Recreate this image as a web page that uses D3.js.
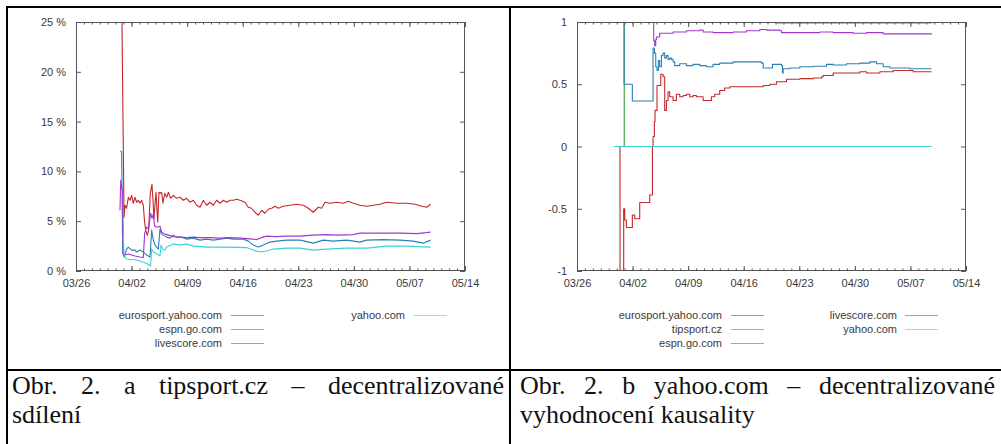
<!DOCTYPE html>
<html>
<head>
<meta charset="utf-8">
<script src="https://cdn.jsdelivr.net/npm/d3@7"></script>
<style>
  html, body { margin: 0; padding: 0; background: #fff; }
  svg { display: block; }
</style>
</head>
<body>
<svg id="fig" width="1001" height="444"></svg>
<script>
// ---- data ---------------------------------------------------------------
// Time values are days since 26 March (the left end of the time axis).
const axisStart = "2010-03-26";
const xTickLabels = ["03/26", "04/02", "04/09", "04/16", "04/23", "04/30", "05/07", "05/14"];

// Panel a: share of tipsport.cz traffic (percent)
const shareTicks = [0, 5, 10, 15, 20, 25];
const shareEurosport = [[5.79,25.0],[6.05,5.4],[6.17,6.6],[6.38,6.3],[6.59,7.4],[6.80,7.1],[7.01,7.6],[7.22,6.8],[7.43,7.4],[7.64,6.9],[7.85,7.1],[8.06,6.8],[8.27,7.1],[8.48,6.6],[8.61,5.2],[8.77,4.1],[8.98,3.6],[9.15,4.1],[9.36,7.8],[9.57,8.7],[9.70,7.1],[9.82,5.2],[9.99,7.1],[10.08,7.9],[10.29,4.9],[10.45,7.9],[10.62,7.8],[10.79,7.9],[10.96,6.8],[11.17,7.8],[11.42,7.4],[11.63,7.9],[11.92,7.3],[12.26,7.6],[12.68,7.3],[13.10,7.4],[13.52,7.1],[13.94,7.3],[14.36,6.9],[14.78,7.1],[15.20,6.6],[15.62,6.4],[16.04,7.1],[16.46,6.6],[16.88,6.9],[17.30,6.6],[17.72,7.1],[18.14,6.8],[18.56,7.1],[18.98,6.9],[19.40,7.1],[19.82,7.1],[20.24,7.2],[20.66,7.1],[21.28,6.9],[21.70,6.4],[22.12,6.3],[22.54,5.9],[22.96,5.6],[23.38,6.1],[23.80,5.8],[24.22,6.2],[24.64,6.3],[25.06,6.5],[25.48,6.3],[26.11,6.5],[26.95,6.6],[27.79,6.7],[28.63,6.6],[29.26,6.3],[29.89,5.9],[30.52,6.4],[30.94,6.3],[31.36,6.9],[31.99,6.8],[32.83,6.9],[33.67,6.8],[34.30,7.0],[34.93,6.8],[35.77,6.6],[36.61,6.5],[37.45,6.6],[38.29,6.7],[39.13,6.9],[40.39,6.8],[41.65,6.8],[42.70,6.7],[43.54,6.5],[44.16,6.4],[44.67,6.7]];
const shareEspn = [[5.63,12.1],[5.75,11.9],[5.88,1.8],[6.05,1.4],[6.38,2.2],[6.59,2.4],[7.01,2.1],[7.43,2.1],[7.64,1.9],[8.06,2.1],[8.48,1.9],[8.90,1.6],[9.32,1.4],[9.53,4.1],[9.74,3.1],[9.95,2.6],[10.16,2.4],[10.37,2.2],[10.58,4.2],[10.79,3.7],[11.00,3.6],[11.42,3.4],[11.84,3.3],[12.26,3.6],[12.68,3.4],[13.31,3.4],[13.94,3.2],[14.78,3.3],[15.62,3.1],[16.46,3.2],[17.30,3.1],[18.14,3.2],[18.98,3.3],[19.82,3.2],[21.07,3.2],[21.70,3.0],[22.33,2.6],[22.96,2.4],[23.59,2.6],[24.43,2.9],[25.27,3.0],[26.53,3.1],[28.21,3.1],[29.89,2.8],[31.15,3.1],[32.41,3.0],[34.09,3.1],[35.77,2.9],[36.61,3.1],[38.71,3.15],[40.81,3.1],[42.49,3.0],[43.75,2.8],[44.67,3.1]];
const shareLivescore = [[5.54,6.1],[5.63,9.1],[5.75,8.3],[5.88,8.1],[5.96,1.7],[6.17,1.6],[6.59,1.7],[7.01,1.6],[7.43,1.5],[8.06,1.4],[8.48,1.35],[8.65,3.8],[8.90,4.4],[9.15,4.2],[9.40,5.8],[9.57,5.3],[9.74,5.7],[9.90,4.5],[10.29,4.4],[10.58,4.5],[10.79,3.9],[11.21,3.7],[11.63,3.6],[12.26,3.45],[13.10,3.4],[13.94,3.35],[14.78,3.4],[15.62,3.35],[16.88,3.35],[18.14,3.3],[19.40,3.35],[20.66,3.3],[21.49,3.25],[22.33,3.2],[22.75,3.15],[23.17,3.3],[24.01,3.5],[25.27,3.45],[26.53,3.5],[28.21,3.5],[29.89,3.6],[31.57,3.65],[32.83,3.6],[34.93,3.65],[35.77,3.8],[38.29,3.8],[40.81,3.8],[42.91,3.75],[44.16,3.85],[44.67,3.9]];
const shareYahoo = [[5.96,3.6],[6.05,1.6],[6.38,1.2],[6.80,1.15],[7.22,1.15],[7.64,1.1],[8.06,1.0],[8.48,0.9],[8.90,0.75],[9.40,0.5],[9.53,2.2],[9.74,1.9],[10.16,1.75],[10.58,1.5],[10.71,2.6],[10.92,2.2],[11.21,2.1],[11.42,2.4],[12.26,2.7],[13.10,2.6],[13.94,2.7],[14.78,2.5],[16.46,2.4],[18.98,2.4],[21.49,2.35],[22.33,2.1],[23.17,1.9],[24.01,2.0],[24.85,2.2],[26.53,2.3],[28.21,2.3],[29.89,2.1],[31.57,2.2],[34.09,2.3],[36.61,2.3],[39.13,2.5],[41.65,2.5],[44.67,2.4]];

// Panel b: causality score for yahoo.com (-1 .. 1)
const causalTicks = [-1, -0.5, 0, 0.5, 1];
const causalTickLabels = ["-1", "-0.5", "0", "0.5", "1"];
const causalEurosport = [[5.38,0],[5.42,-1.3],[5.88,-0.5],[6.01,-0.59],[6.22,-0.65],[6.97,-0.55],[7.27,-0.58],[7.90,-0.45],[9.16,-0.39],[9.50,0.0],[9.58,0.08],[9.75,0.2],[9.83,0.29],[10.08,0.49],[10.55,0.58],[10.84,0.56],[11.05,0.29],[11.26,0.37],[11.47,0.44],[11.68,0.40],[12.10,0.37],[12.52,0.42],[12.94,0.40],[13.36,0.41],[13.78,0.42],[14.20,0.40],[14.62,0.41],[15.04,0.40],[15.46,0.40],[15.88,0.37],[16.51,0.37],[16.93,0.40],[17.35,0.42],[17.98,0.45],[18.61,0.47],[19.24,0.48],[20.50,0.48],[22.18,0.48],[23.45,0.49],[24.29,0.50],[25.13,0.52],[26.39,0.54],[28.07,0.545],[29.75,0.55],[30.80,0.56],[31.01,0.57],[32.27,0.59],[33.95,0.59],[35.63,0.60],[36.47,0.59],[38.15,0.60],[39.83,0.61],[42.35,0.60],[44.66,0.60]];
const causalTipsport = [[5.92,0],[5.95,1.0],[25.13,1.0],[25.15,0.992],[44.66,0.992]];
const causalEspn = [[5.90,1.0],[5.93,0.5],[6.97,0.365],[9.50,0.365],[9.58,0.79],[9.75,0.75],[9.92,0.64],[10.08,0.61],[10.25,0.69],[10.42,0.64],[10.63,0.73],[10.84,0.75],[11.05,0.71],[11.26,0.73],[11.47,0.70],[11.68,0.71],[11.89,0.70],[12.10,0.68],[12.31,0.65],[12.94,0.665],[13.78,0.65],[14.62,0.66],[15.46,0.65],[16.30,0.64],[17.14,0.66],[17.98,0.67],[19.66,0.68],[21.34,0.68],[23.24,0.67],[23.45,0.63],[24.62,0.66],[25.76,0.65],[25.88,0.59],[25.97,0.625],[26.81,0.63],[28.07,0.64],[29.75,0.645],[31.43,0.66],[32.27,0.655],[33.95,0.665],[35.63,0.67],[36.89,0.68],[37.73,0.665],[38.57,0.64],[39.41,0.63],[41.93,0.625],[44.66,0.625]];
const causalLivescore = [[9.50,1.0],[9.66,0.85],[9.79,0.81],[9.92,0.86],[10.00,0.88],[10.42,0.91],[11.26,0.91],[12.10,0.92],[13.78,0.93],[15.46,0.935],[15.88,0.92],[17.14,0.915],[19.66,0.92],[21.34,0.93],[23.03,0.94],[23.87,0.935],[25.55,0.93],[25.76,0.915],[28.07,0.915],[30.59,0.92],[32.27,0.915],[34.79,0.91],[36.47,0.915],[38.57,0.905],[40.67,0.905],[44.66,0.90]];
const causalYahoo = [[4.66,0],[44.66,0]];

const siteColors = {
  "eurosport.yahoo.com": "#c3282b",
  "tipsport.cz": "#3a9d3a",
  "espn.go.com": "#2a80b6",
  "livescore.com": "#a236d2",
  "yahoo.com": "#3ad2d8"
};

const captionA = [["Obr.", "2.", "a", "tipsport.cz", "–", "decentralizované"], ["sdílení"]];
const captionB = [["Obr.", "2.", "b", "yahoo.com", "–", "decentralizované"], ["vyhodnocení", "kausality"]];

// ---- drawing ------------------------------------------------------------
const svg = d3.select("#fig");
const origin = d3.timeParse("%Y-%m-%d")(axisStart);
const toDate = d => new Date(origin.getTime() + d * 864e5);
const parseTick = s => d3.timeParse("%Y/%m/%d")(origin.getFullYear() + "/" + s);
const tickDates = xTickLabels.map(parseTick);
const axisFont = "'Liberation Sans', Arial, sans-serif";

function drawPanel(opts) {
  const { id, left, right, top, bottom, yDomain, yTicks, yLabels, series, curve, legend } = opts;
  const g = svg.append("g");
  const x = d3.scaleTime().domain([tickDates[0], tickDates[tickDates.length - 1]]).range([left, right]);
  const y = d3.scaleLinear().domain(yDomain).range([bottom, top]);

  g.append("clipPath").attr("id", "clip-" + id)
    .append("rect").attr("x", left).attr("y", top).attr("width", right - left).attr("height", bottom - top);

  // minor (daily) ticks
  const minor = d3.timeDay.range(tickDates[0], tickDates[tickDates.length - 1]);
  const styleAxis = sel => {
    sel.select(".domain").remove();
    sel.selectAll(".tick line").attr("stroke", "#555").attr("stroke-width", 1);
    sel.selectAll(".tick text").attr("fill", "#3a3a3a").style("font-family", axisFont).style("font-size", "11px");
  };
  g.append("g").attr("transform", `translate(0,${bottom})`)
    .call(d3.axisBottom(x).tickValues(minor).tickSize(-2.5).tickFormat("")).call(styleAxis);
  g.append("g").attr("transform", `translate(0,${top})`)
    .call(d3.axisTop(x).tickValues(minor).tickSize(-2.5).tickFormat("")).call(styleAxis);
  g.append("g").attr("transform", `translate(0,${bottom})`)
    .call(d3.axisBottom(x).tickValues(tickDates).tickSize(-5).tickPadding(8)
      .tickFormat((d, i) => xTickLabels[i])).call(styleAxis);
  g.append("g").attr("transform", `translate(0,${top})`)
    .call(d3.axisTop(x).tickValues(tickDates).tickSize(-5).tickFormat("")).call(styleAxis);
  g.append("g").attr("transform", `translate(${left},0)`)
    .call(d3.axisLeft(y).tickValues(yTicks).tickSize(-5).tickPadding(10)
      .tickFormat((d, i) => yLabels[i])).call(styleAxis);
  g.append("g").attr("transform", `translate(${right},0)`)
    .call(d3.axisRight(y).tickValues(yTicks).tickSize(-5).tickFormat("")).call(styleAxis);

  const line = d3.line().x(p => x(toDate(p[0]))).y(p => y(p[1])).curve(curve);
  const plot = g.append("g").attr("clip-path", `url(#clip-${id})`);
  series.forEach(s => {
    plot.append("path").datum(s.values)
      .attr("d", line).attr("fill", "none")
      .attr("stroke", siteColors[s.name]).attr("stroke-width", 1.1)
      .attr("stroke-linejoin", "round");
  });

  g.append("rect").attr("x", left + 0.5).attr("y", top + 0.5)
    .attr("width", right - left - 1).attr("height", bottom - top - 1)
    .attr("fill", "none").attr("stroke", "#555").attr("stroke-width", 1);

  // key
  const lg = g.append("g");
  legend.forEach(col => {
    col.names.forEach((name, i) => {
      const yy = legend.rowY + i * legend.rowStep;
      lg.append("text").attr("x", col.textEnd).attr("y", yy).attr("dy", "0.35em")
        .attr("text-anchor", "end").attr("fill", "#3a3a3a")
        .style("font-family", axisFont).style("font-size", "11px").text(name);
      lg.append("line").attr("x1", col.lineStart).attr("x2", col.lineStart + 33)
        .attr("y1", yy + 0.5).attr("y2", yy + 0.5)
        .attr("stroke", siteColors[name]).attr("stroke-width", 1).attr("opacity", 0.6);
    });
  });
}

const panelTop = 22, panelBottom = 271;

drawPanel({
  id: "a", left: 76, right: 465, top: panelTop, bottom: panelBottom,
  yDomain: [0, 25], yTicks: shareTicks, yLabels: shareTicks.map(v => v + " %"),
  curve: d3.curveLinear,
  series: [
    { name: "eurosport.yahoo.com", values: shareEurosport },
    { name: "espn.go.com", values: shareEspn },
    { name: "livescore.com", values: shareLivescore },
    { name: "yahoo.com", values: shareYahoo }
  ],
  legend: Object.assign([
    { names: ["eurosport.yahoo.com", "espn.go.com", "livescore.com"], textEnd: 222, lineStart: 231 },
    { names: ["yahoo.com"], textEnd: 405, lineStart: 414 }
  ], { rowY: 315, rowStep: 14 })
});

drawPanel({
  id: "b", left: 577, right: 966, top: panelTop, bottom: panelBottom,
  yDomain: [-1, 1], yTicks: causalTicks, yLabels: causalTickLabels,
  curve: d3.curveStepAfter,
  series: [
    { name: "eurosport.yahoo.com", values: causalEurosport },
    { name: "tipsport.cz", values: causalTipsport },
    { name: "espn.go.com", values: causalEspn },
    { name: "livescore.com", values: causalLivescore },
    { name: "yahoo.com", values: causalYahoo }
  ],
  legend: Object.assign([
    { names: ["eurosport.yahoo.com", "tipsport.cz", "espn.go.com"], textEnd: 722, lineStart: 731 },
    { names: ["livescore.com", "yahoo.com"], textEnd: 897, lineStart: 905 }
  ], { rowY: 315, rowStep: 14 })
});

// ---- table rules ----------------------------------------------------------
const rules = svg.append("g").attr("stroke", "#000").attr("stroke-width", 2);
rules.append("line").attr("x1", 6).attr("x2", 1001).attr("y1", 7).attr("y2", 7);
rules.append("line").attr("x1", 7).attr("x2", 7).attr("y1", 6).attr("y2", 444);
rules.append("line").attr("x1", 510).attr("x2", 510).attr("y1", 6).attr("y2", 444);
rules.append("line").attr("x1", 6).attr("x2", 1001).attr("y1", 370).attr("y2", 370);

// ---- captions (first line justified) --------------------------------------
function caption(lines, x0, x1, baseline, lineStep) {
  const g = svg.append("g").style("font-family", "'Liberation Serif', 'Times New Roman', serif")
    .style("font-size", "26px").attr("fill", "#111");
  lines.forEach((words, li) => {
    const yy = baseline + li * lineStep;
    const nodes = words.map(w => g.append("text").attr("y", yy).text(w));
    const widths = nodes.map(n => n.node().getComputedTextLength());
    const total = d3.sum(widths);
    const justify = li < lines.length - 1 && words.length > 1;
    const gap = justify ? (x1 - x0 - total) / (words.length - 1) : 6.5;
    let cx = x0;
    nodes.forEach((n, i) => { n.attr("x", cx); cx += widths[i] + gap; });
  });
}
caption(captionA, 12, 504, 394, 29);
caption(captionB, 520, 995, 394, 29);
</script>
</body>
</html>
